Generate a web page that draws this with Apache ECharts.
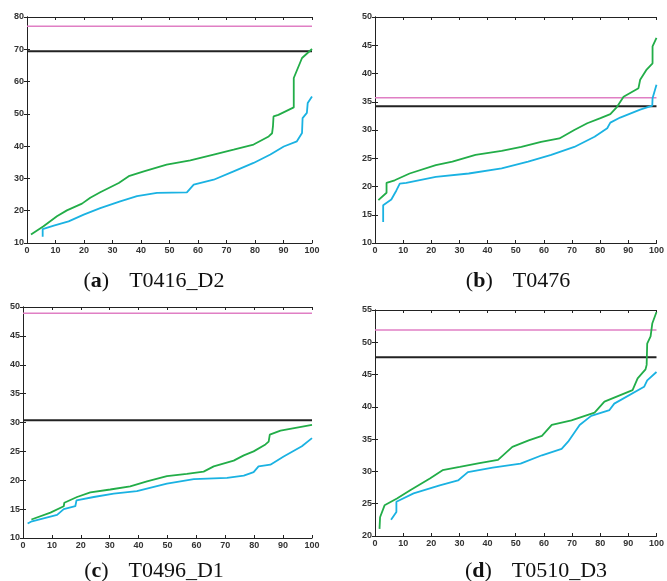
<!DOCTYPE html>
<html>
<head>
<meta charset="utf-8">
<script src="https://cdn.jsdelivr.net/npm/echarts@6/dist/echarts.min.js"></script>
<style>
html, body { margin: 0; padding: 0; background: #fff; }
#main { width: 667px; height: 581px; }
</style>
</head>
<body>
<div id="main"></div>
<script>
// panel (a) T0416_D2
var aGreen = [[1.4,12.6],[5.8,15.2],[10.5,18.3],[14,20.1],[19.3,22.2],[22.2,24],[25.7,25.7],[32.2,28.6],[35.7,30.7],[41,32.2],[49,34.3],[57.3,35.6],[65.5,37.4],[72.5,38.9],[79.5,40.5],[84.8,43],[86,44],[86.3,46.1],[86.5,49.2],[88.2,49.7],[93.6,52],[93.6,61.1],[96.5,67.3],[100,70.1]]
var aBlue = [[5.5,11.9],[5.5,14.3],[9.4,15.4],[14.6,16.7],[19.9,18.8],[25.7,20.8],[32.7,22.9],[38.6,24.5],[45.6,25.5],[56.1,25.7],[58.5,28.1],[65.5,29.6],[72.5,32.2],[79.5,34.8],[85.4,37.4],[90.1,39.9],[94.7,41.5],[96.5,44.1],[96.7,48.7],[98.2,50.3],[98.5,53.4],[100,55.4]]
var aPink = 77.1
var aBlack = 69.4

// panel (b) T0476
var bGreen = [[1.2,17.6],[4.1,18.9],[4.1,20.65],[7,21.1],[12.3,22.3],[21.6,23.8],[27.5,24.4],[35.7,25.6],[45,26.3],[52,27],[59,27.9],[65.5,28.5],[70.8,30],[75.4,31.2],[80.1,32.1],[83.6,32.8],[86,34.1],[88.3,35.9],[93.6,37.4],[94.2,38.9],[96.5,40.7],[98.6,41.8],[98.6,44.8],[100,46.3]]
var bBlue = [[2.9,13.7],[2.9,16.7],[5.8,17.7],[7.6,19.3],[8.8,20.5],[11.1,20.65],[21.6,21.7],[33.3,22.3],[45,23.2],[54.4,24.4],[62.6,25.6],[70.8,27],[78,28.8],[82.5,30.3],[83.6,31.3],[87.1,32.2],[94.2,33.6],[98.5,34.3],[98.6,35.6],[100,38]]
var bPink = 35.7
var bBlack = 34.2

// panel (c) T0496_D1
var cGreen = [[2.9,13.2],[9.5,14.4],[14.1,15.5],[14.3,16.1],[18.7,17.1],[23.3,17.9],[30.2,18.4],[37.1,18.95],[42.9,19.8],[49.8,20.7],[56.7,21.1],[62.5,21.5],[66,22.4],[72.9,23.4],[76.4,24.3],[79.8,25],[83.9,26.2],[85,26.7],[85.4,27.9],[89.1,28.6],[100,29.6]]
var cBlue = [[1.6,12.5],[3.1,12.9],[11.8,14],[14.1,15],[18.1,15.5],[18.5,16.5],[24.5,17.1],[31.4,17.7],[39.4,18.1],[49.8,19.4],[59.1,20.2],[70.6,20.4],[76.4,20.8],[79.8,21.4],[81.5,22.4],[85.6,22.7],[90.2,24.1],[96.5,25.9],[100,27.3]]
var cPink = 48.9
var cBlack = 30.4

// panel (d) T0510_D3
var dGreen = [[1.6,21.1],[1.8,22.9],[3.4,24.75],[7.8,25.8],[12.5,27.1],[19.5,28.9],[24,30.2],[30.1,30.7],[37.1,31.3],[43.7,31.8],[48.8,33.8],[54.6,34.8],[59.3,35.5],[62.8,37.2],[69.8,37.9],[78,39.1],[81.5,40.8],[91.5,42.6],[93.3,44.4],[96.1,45.8],[96.5,46.5],[96.7,49.8],[97.9,50.9],[98.5,52.9],[100,54.7]]
var dBlue = [[5.7,22.5],[7.6,23.7],[7.6,25.3],[13.7,26.6],[23,27.85],[29.5,28.6],[33,29.9],[41.8,30.6],[51.7,31.2],[59.3,32.5],[66.3,33.5],[68.6,34.6],[72.7,37.2],[76.8,38.6],[83.3,39.5],[85,40.5],[95.6,43.1],[96.7,44.1],[100,45.4]]
var dPink = 51.9
var dBlack = 47.7

var captions = [['a', 'T0416_D2'], ['b', 'T0476'], ['c', 'T0496_D1'], ['d', 'T0510_D3']]
var yRanges = [[10, 80, 10], [10, 50, 5], [10, 50, 5], [20, 55, 5]]

var panels = [
  { green: aGreen, blue: aBlue, pink: aPink, black: aBlack },
  { green: bGreen, blue: bBlue, pink: bPink, black: bBlack },
  { green: cGreen, blue: cBlue, pink: cPink, black: cBlack },
  { green: dGreen, blue: dBlue, pink: dPink, black: dBlack }
]

var grids = [
  { left: 27, top: 17, width: 285, height: 226 },
  { left: 375, top: 17, width: 285, height: 226 },
  { left: 23, top: 307, width: 289, height: 231 },
  { left: 375, top: 310, width: 285, height: 226 }
]
var captionPos = [[149, 265], [513, 265], [149, 555], [531, 555]]

var myChart = echarts.init(document.getElementById('main'))
var lbl = { fontFamily: 'Liberation Sans', fontSize: 9, fontWeight: 'bold', color: '#333', margin: 3 }
var tick = { show: true, inside: true, length: 3, lineStyle: { color: '#222', width: 1 } }
var line = { show: true, lineStyle: { color: '#222', width: 1 } }

var xAxis = [], yAxis = [], series = [], title = []
grids.forEach(function (g, i) {
  var r = yRanges[i]
  xAxis.push({ type: 'value', gridIndex: i, min: 0, max: 100, interval: 10, position: 'bottom',
    axisLine: line, axisTick: tick, axisLabel: lbl, splitLine: { show: false } })
  xAxis.push({ type: 'value', gridIndex: i, min: 0, max: 100, interval: 10, position: 'top',
    axisLine: line, axisTick: tick, axisLabel: { show: false }, splitLine: { show: false } })
  yAxis.push({ type: 'value', gridIndex: i, min: r[0], max: r[1], interval: r[2], position: 'left',
    axisLine: line, axisTick: tick, axisLabel: lbl, splitLine: { show: false } })
  yAxis.push({ type: 'value', gridIndex: i, min: r[0], max: r[1], interval: r[2], position: 'right',
    axisLine: line, axisTick: tick, axisLabel: { show: false }, splitLine: { show: false } })
  var p = panels[i]
  var base = { type: 'line', xAxisIndex: i * 2, yAxisIndex: i * 2, symbol: 'none', silent: true, animation: false }
  series.push(Object.assign({}, base, { data: [[0, p.pink], [100, p.pink]], lineStyle: { color: '#e07fc4', width: 1.5 } }))
  series.push(Object.assign({}, base, { data: [[0, p.black], [100, p.black]], lineStyle: { color: '#222', width: 2 } }))
  series.push(Object.assign({}, base, { data: p.blue, lineStyle: { color: '#1ab2e2', width: 1.8 } }))
  series.push(Object.assign({}, base, { data: p.green, lineStyle: { color: '#22ad48', width: 1.8 } }))
  title.push({
    text: '{p|(}{b|' + captions[i][0] + '}{p|)}{g|}{p|' + captions[i][1] + '}',
    left: captionPos[i][0], top: captionPos[i][1], textAlign: 'center',
    textStyle: { rich: {
      p: { fontFamily: 'Liberation Serif', fontSize: 22, fontWeight: 'normal', color: '#111' },
      b: { fontFamily: 'Liberation Serif', fontSize: 22, fontWeight: 'bold', color: '#111' },
      g: { width: 20 }
    } }
  })
})

myChart.setOption({
  animation: false,
  title: title,
  grid: grids,
  xAxis: xAxis,
  yAxis: yAxis,
  series: series
})
</script>
</body>
</html>
